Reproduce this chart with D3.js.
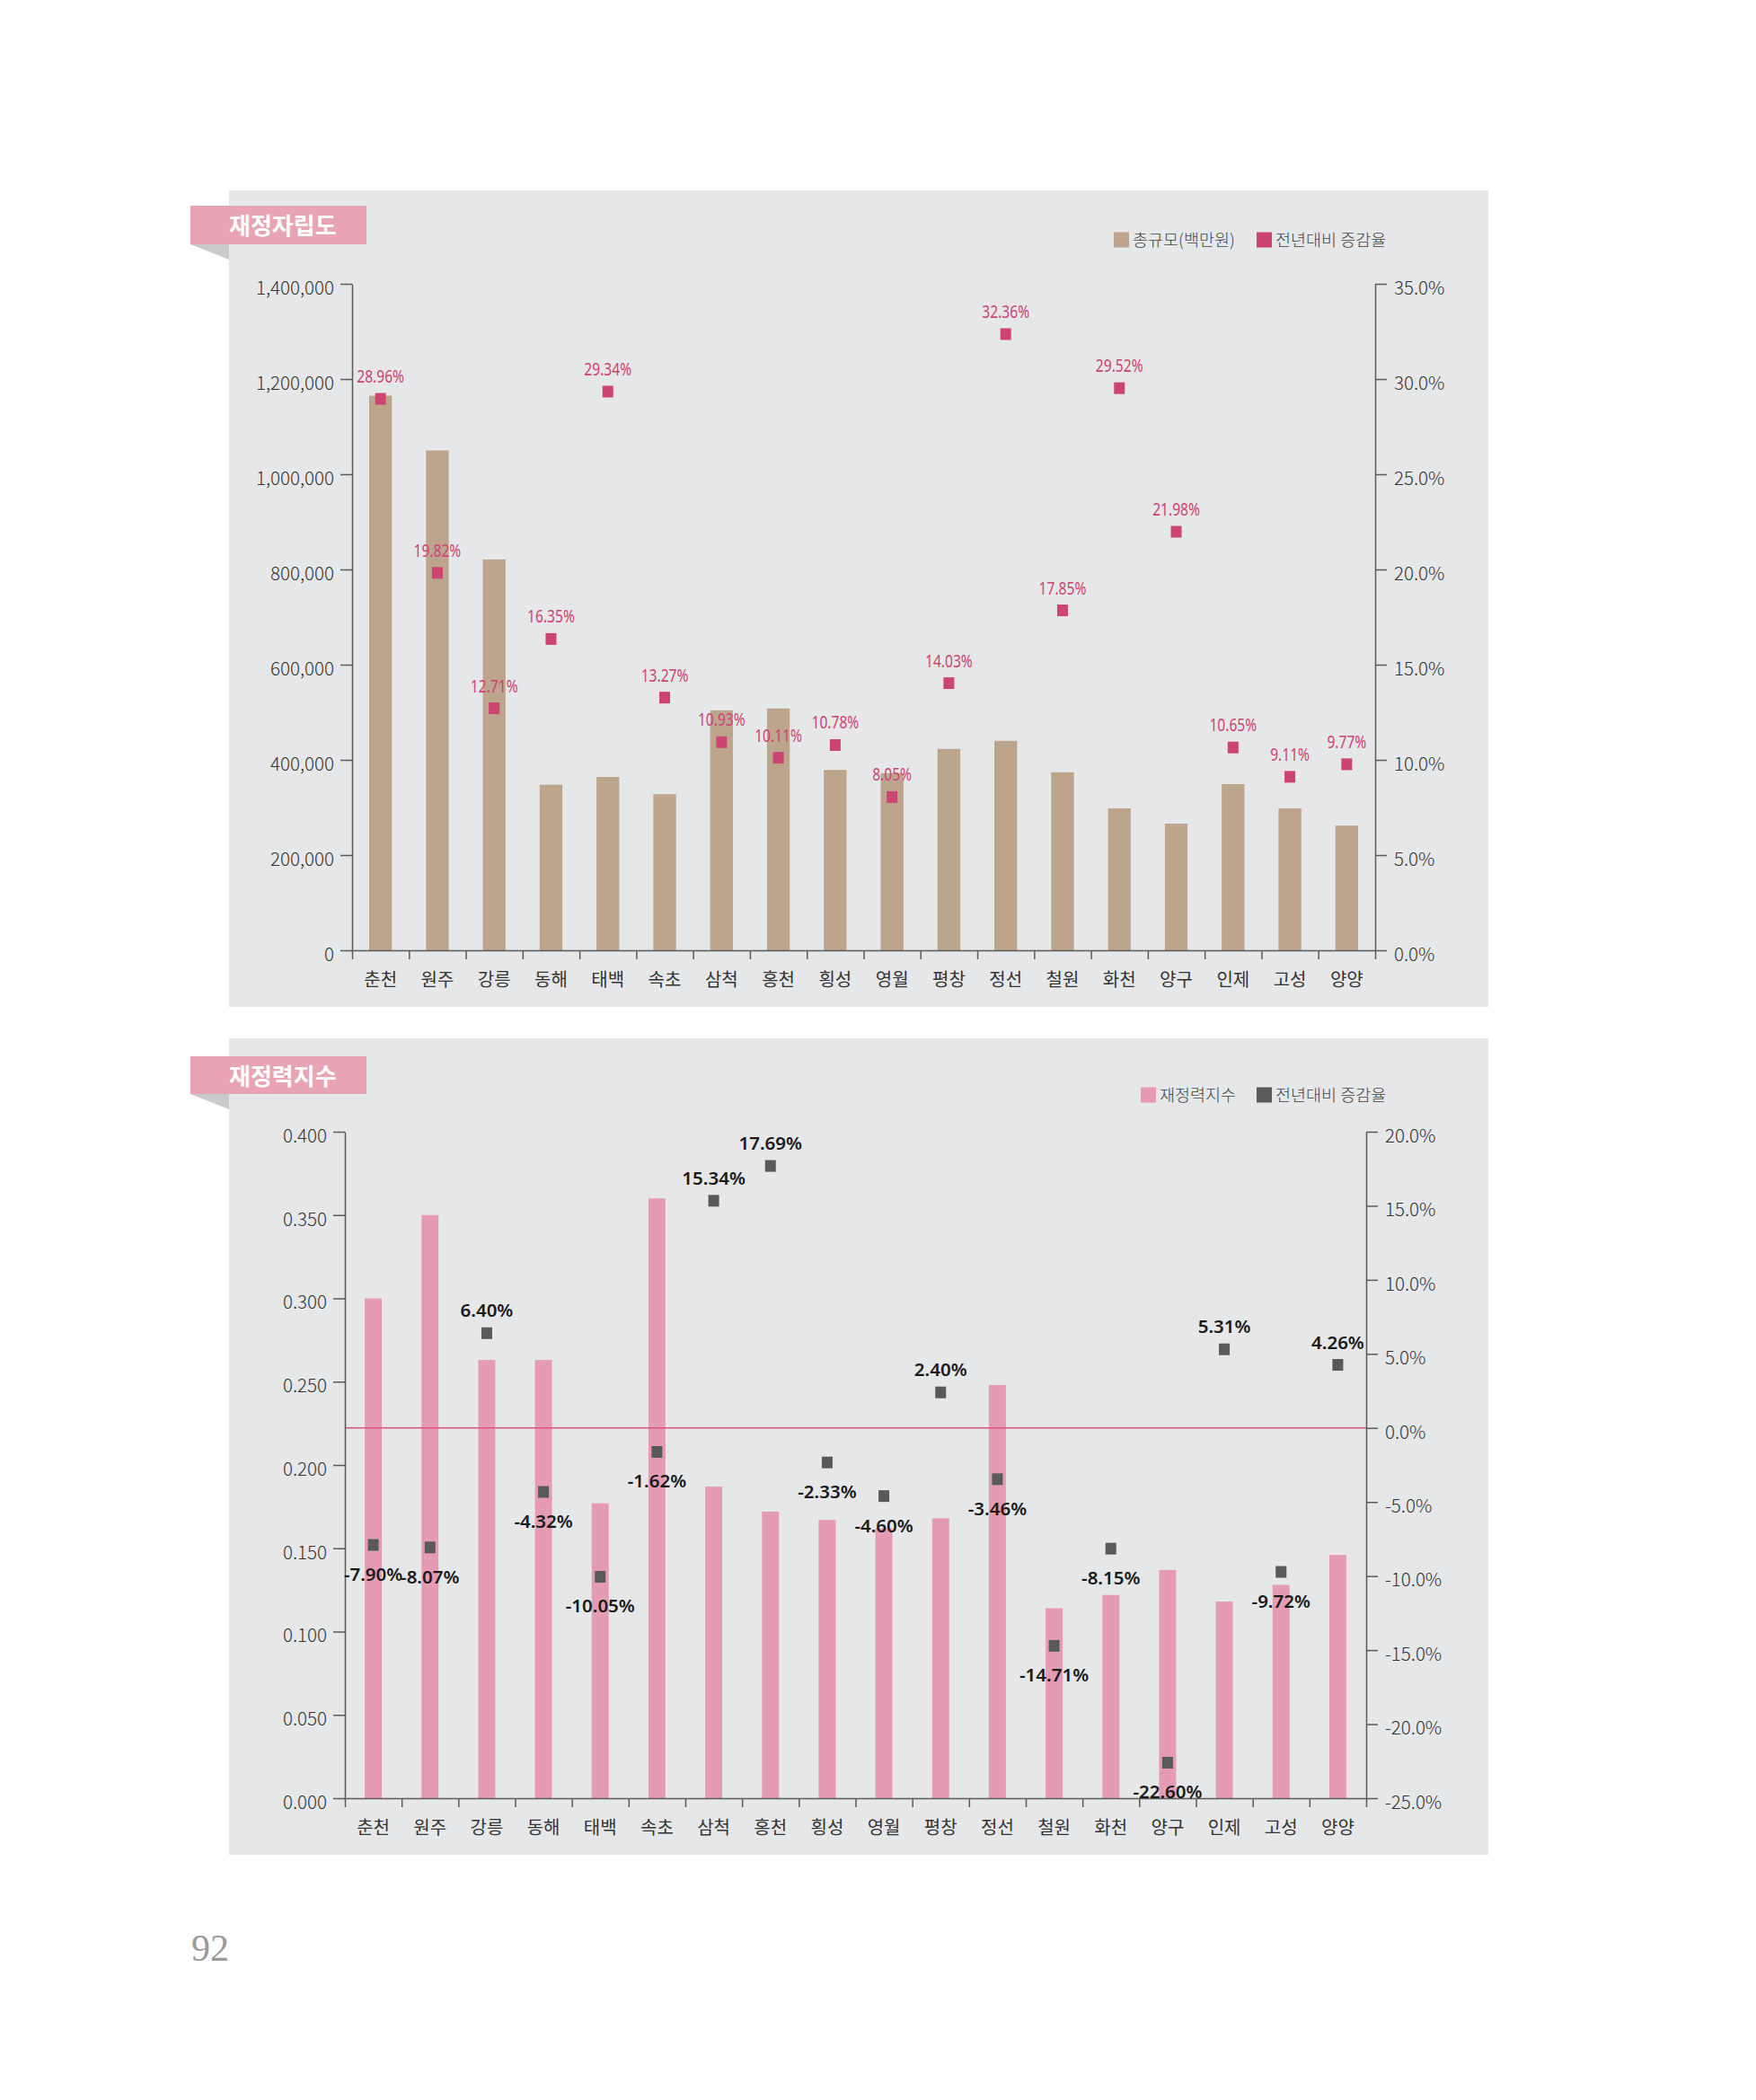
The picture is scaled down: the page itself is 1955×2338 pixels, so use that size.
<!DOCTYPE html>
<html>
<head>
<meta charset="utf-8">
<script src="https://cdn.jsdelivr.net/npm/d3@7"></script>
<style>
  body { margin: 0; background: #fff; }
  svg { display: block; }
</style>
</head>
<body>
<div class="chart"></div>
<script>
const width = 1955;
const height = 2338;

                                        // DATA //
const cities = ["춘천", "원주", "강릉", "동해", "태백", "속초", "삼척", "홍천", "횡성",
                "영월", "평창", "정선", "철원", "화천", "양구", "인제", "고성", "양양"];

// 재정자립도 : 총규모(백만원) + 전년대비 증감율
const sizeValues = [1165000, 1050000, 821000, 348000, 364000, 328000, 504000, 508000, 379000,
                    372000, 423000, 440000, 374000, 298000, 266000, 349000, 298000, 262000];
const sizeRates = [28.96, 19.82, 12.71, 16.35, 29.34, 13.27, 10.93, 10.11, 10.78,
                   8.05, 14.03, 32.36, 17.85, 29.52, 21.98, 10.65, 9.11, 9.77];
const sizeTicks = [0, 200000, 400000, 600000, 800000, 1000000, 1200000, 1400000];
const sizeRateTicks = [0, 5, 10, 15, 20, 25, 30, 35];

// 재정력지수 : 재정력지수 + 전년대비 증감율
const indexValues = [0.300, 0.350, 0.263, 0.263, 0.177, 0.360, 0.187, 0.172, 0.167,
                     0.162, 0.168, 0.248, 0.114, 0.122, 0.137, 0.118, 0.128, 0.146];
const indexRates = [-7.90, -8.07, 6.40, -4.32, -10.05, -1.62, 15.34, 17.69, -2.33,
                    -4.60, 2.40, -3.46, -14.71, -8.15, -22.60, 5.31, -9.72, 4.26];
const indexTicks = [0, 0.05, 0.1, 0.15, 0.2, 0.25, 0.3, 0.35, 0.4];
const indexRateTicks = [-25, -20, -15, -10, -5, 0, 5, 10, 15, 20];

const korFont = "'Noto Sans CJK KR', 'Noto Sans', sans-serif";
const axisColor = "#5a5a5a";

// plain hyphen for negatives, like the printed page
const locale = d3.formatLocale({decimal: ".", thousands: ",", grouping: [3], currency: ["", ""], minus: "-"});
const pct1 = d => locale.format(".1f")(d) + "%";
const pct2 = d => locale.format(".2f")(d) + "%";

                                        // SVG //
const svg = d3.select(".chart")
    .append("svg")
    .attr("width", width)
    .attr("height", height)
    .attr("viewBox", [0, 0, width, height]);

svg.append("rect").attr("width", width).attr("height", height).attr("fill", "#fff");

                                        // ONE PANEL //
function drawPanel(cfg) {
    const g = svg.append("g");

    // gray panel + title tab with its fold
    g.append("rect")
        .attr("x", 255).attr("y", cfg.top)
        .attr("width", 1402).attr("height", 909)
        .attr("fill", "#e6e7e8");
    g.append("path")
        .attr("d", `M212,${cfg.tabY + cfg.tabH} L255,${cfg.tabY + cfg.tabH} L255,${cfg.tabY + cfg.tabH + 17} Z`)
        .attr("fill", "#c9cacc");
    g.append("rect")
        .attr("x", 212).attr("y", cfg.tabY)
        .attr("width", 196).attr("height", cfg.tabH)
        .attr("fill", "#e8a4b2");
    g.append("text")
        .attr("x", 255).attr("y", cfg.tabY + 32)
        .attr("font-family", korFont)
        .attr("font-size", 26)
        .attr("font-weight", 700)
        .attr("fill", "#fff")
        .text(cfg.title);

    // scales
    const x = d3.scaleBand()
        .domain(cities)
        .range([cfg.left, cfg.right]);
    const xIdx = d3.scaleLinear()
        .domain([0, cities.length])
        .range([cfg.left, cfg.right]);
    const yL = d3.scaleLinear()
        .domain(d3.extent(cfg.ticks))
        .range([cfg.bottom, cfg.plotTop]);
    const yR = d3.scaleLinear()
        .domain(d3.extent(cfg.rateTicks))
        .range([cfg.bottom, cfg.plotTop]);

    // bars
    const bw = x.bandwidth() * cfg.barRatio;
    g.append("g")
        .selectAll("rect")
        .data(cfg.values)
        .join("rect")
        .attr("x", (d, i) => x(cities[i]) + (x.bandwidth() - bw) / 2)
        .attr("y", d => yL(d))
        .attr("width", bw)
        .attr("height", d => yL(0) - yL(d))
        .attr("fill", cfg.barColor);

    // zero reference line
    if (cfg.zeroLine) {
        g.append("line")
            .attr("x1", cfg.left).attr("x2", cfg.right)
            .attr("y1", yR(0)).attr("y2", yR(0))
            .attr("stroke", "#d9557e")
            .attr("stroke-width", 1.6);
    }

    // axes
    const styleAxis = sel => {
        sel.selectAll("path, line").attr("stroke", axisColor).attr("stroke-width", 1.5);
        sel.selectAll("text")
            .attr("font-family", korFont)
            .attr("font-weight", 300)
            .attr("font-size", 20.5)
            .attr("fill", "#333");
    };

    g.append("g")
        .attr("transform", `translate(${cfg.left},0)`)
        .call(d3.axisLeft(yL).tickValues(cfg.ticks).tickSize(13).tickSizeOuter(0)
            .tickPadding(7).tickFormat(cfg.leftFormat))
        .call(styleAxis)
        .selectAll("text").attr("dy", "0.55em");

    g.append("g")
        .attr("transform", `translate(${cfg.right},0)`)
        .call(d3.axisRight(yR).tickValues(cfg.rateTicks).tickSize(13).tickSizeOuter(0)
            .tickPadding(8).tickFormat(pct1))
        .call(styleAxis)
        .selectAll("text").attr("dy", "0.55em");

    // category boundaries
    g.append("g")
        .attr("transform", `translate(0,${cfg.bottom})`)
        .call(d3.axisBottom(xIdx).tickValues(d3.range(cities.length + 1)).tickSize(10)
            .tickSizeOuter(0).tickFormat(""))
        .call(styleAxis);

    // category names
    const xAxis = g.append("g")
        .attr("transform", `translate(0,${cfg.bottom})`)
        .call(d3.axisBottom(x).tickSize(0).tickPadding(26));
    xAxis.select(".domain").remove();
    xAxis.selectAll("text")
        .attr("font-family", korFont)
        .attr("font-size", 20)
        .attr("fill", "#333");

    // markers + labels
    const mw = 12, mh = 13;
    const pts = g.append("g");
    pts.selectAll("rect")
        .data(cfg.rates)
        .join("rect")
        .attr("x", (d, i) => x(cities[i]) + x.bandwidth() / 2 - mw / 2)
        .attr("y", d => yR(d) - mh / 2)
        .attr("width", mw)
        .attr("height", mh)
        .attr("fill", cfg.markColor);
    pts.selectAll("text")
        .data(cfg.rates)
        .join("text")
        .attr("transform", (d, i) => {
            const tx = x(cities[i]) + x.bandwidth() / 2;
            const ty = d >= 0 ? yR(d) - 18 : yR(d) + 40;
            return `translate(${tx},${ty}) scale(${cfg.labelStretch},1)`;
        })
        .attr("text-anchor", "middle")
        .attr("font-family", cfg.labelFont)
        .attr("font-weight", cfg.labelWeight)
        .attr("font-size", cfg.labelSize)
        .attr("fill", cfg.labelColor)
        .text(pct2);

    // legend
    const lg = g.append("g").attr("transform", `translate(0,${cfg.legendY})`);
    cfg.legend.forEach(item => {
        lg.append("rect")
            .attr("x", item.x).attr("y", -8.5)
            .attr("width", 17).attr("height", 17)
            .attr("fill", item.color);
        lg.append("text")
            .attr("x", item.x + 21).attr("y", 6.5)
            .attr("font-family", korFont)
            .attr("font-weight", 300)
            .attr("font-size", 18.5)
            .attr("fill", "#444")
            .text(item.label);
    });
}

                                        // DRAW //
drawPanel({
    title: "재정자립도",
    top: 212, tabY: 229, tabH: 43,
    left: 392, right: 1531, plotTop: 316, bottom: 1058,
    values: sizeValues, rates: sizeRates,
    ticks: sizeTicks, rateTicks: sizeRateTicks,
    leftFormat: d3.format(","),
    barRatio: 0.4, barColor: "#bda58d",
    markColor: "#cc4472",
    labelColor: "#cc4472",
    labelFont: "'Noto Sans', sans-serif",
    labelWeight: 400, labelSize: 19.5, labelStretch: 0.8,
    zeroLine: false,
    legendY: 267,
    legend: [
        {x: 1240, color: "#bda58d", label: "총규모(백만원)"},
        {x: 1399, color: "#cc4472", label: "전년대비 증감율"}
    ]
});

drawPanel({
    title: "재정력지수",
    top: 1156, tabY: 1176, tabH: 42,
    left: 384, right: 1521, plotTop: 1260, bottom: 2002,
    values: indexValues, rates: indexRates,
    ticks: indexTicks, rateTicks: indexRateTicks,
    leftFormat: d3.format(".3f"),
    barRatio: 0.3, barColor: "#e59bb3",
    markColor: "#58595b",
    labelColor: "#1a1a1a",
    labelFont: "'Noto Sans', sans-serif",
    labelWeight: 600, labelSize: 20.5, labelStretch: 1,
    zeroLine: true,
    legendY: 1219,
    legend: [
        {x: 1270, color: "#e59bb3", label: "재정력지수"},
        {x: 1399, color: "#58595b", label: "전년대비 증감율"}
    ]
});

// page number
svg.append("text")
    .attr("x", 213).attr("y", 2183)
    .attr("font-family", "'Liberation Serif', 'DejaVu Serif', serif")
    .attr("font-size", 42)
    .attr("fill", "#9a9a9a")
    .text("92");
</script>
</body>
</html>
